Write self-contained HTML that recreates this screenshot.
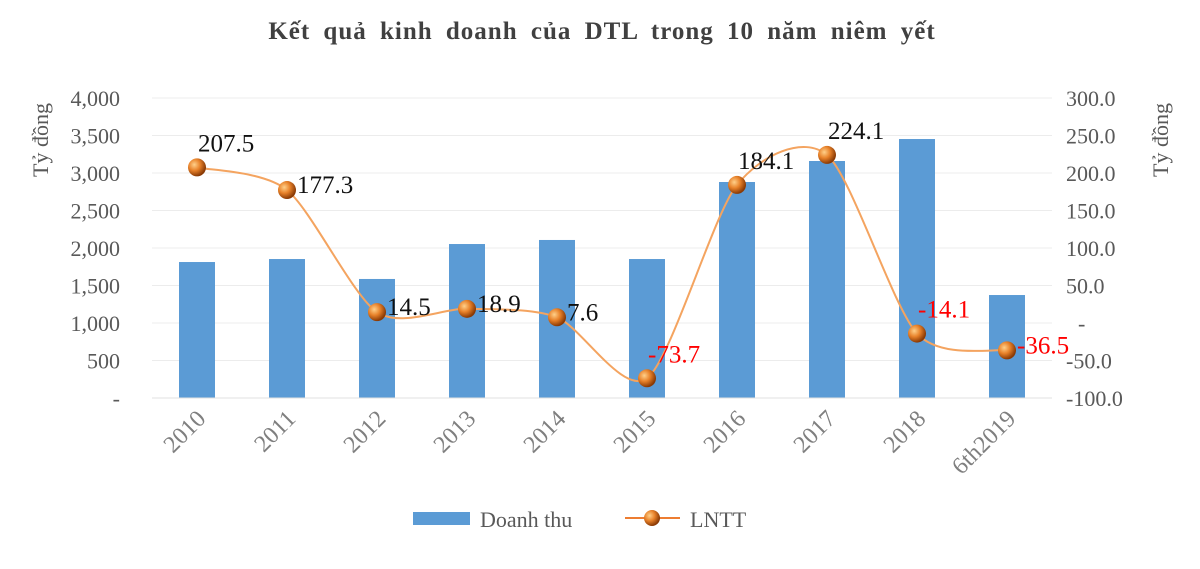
<!DOCTYPE html>
<html><head><meta charset="utf-8">
<style>
body{margin:0;background:#fff;}
svg text{font-family:"Liberation Serif",serif;}
</style></head>
<body>
<svg id="chart" width="1200" height="564" viewBox="0 0 1200 564" xmlns="http://www.w3.org/2000/svg">
<defs>
<radialGradient id="ball" cx="35%" cy="35%" r="65%">
<stop offset="0" stop-color="#ffd08a"/><stop offset="0.5" stop-color="#e8822a"/><stop offset="1" stop-color="#8a3a05"/>
</radialGradient>
</defs>
<text x="602" y="39" text-anchor="middle" font-size="25" font-weight="bold" fill="#404040" letter-spacing="1" word-spacing="6">Kết quả  kinh doanh  của DTL  trong  10 năm  niêm yết</text>
<text transform="translate(48,140) rotate(-90)" text-anchor="middle" font-size="22" fill="#595959">Tỷ đồng</text>
<text transform="translate(1168,140) rotate(-90)" text-anchor="middle" font-size="22" fill="#595959">Tỷ đồng</text>
<g id="grid"></g><g id="bars"></g><g id="line"></g><g id="axes"></g>
<g>
<rect x="413" y="512" width="57" height="13" fill="#5b9bd5"/>
<text x="480" y="527" font-size="22" fill="#595959">Doanh thu</text>
<line x1="625" y1="518" x2="680" y2="518" stroke="#ed7d31" stroke-width="2"/>
<circle cx="652" cy="518" r="8" fill="url(#ball)"/>
<text x="690" y="527" font-size="22" fill="#595959">LNTT</text>
</g>
</svg>
<script>
const categories=["2010","2011","2012","2013","2014","2015","2016","2017","2018","6th2019"];
const revenue=[1813,1853,1587,2053,2107,1853,2880,3160,3453,1373];
const profit=[207.5,177.3,14.5,18.9,7.6,-73.7,184.1,224.1,-14.1,-36.5];
const profitLabels=["207.5","177.3","14.5","18.9","7.6","-73.7","184.1","224.1","-14.1","-36.5"];
const leftTicks=[0,500,1000,1500,2000,2500,3000,3500,4000];
const leftTickLabels=["-","500","1,000","1,500","2,000","2,500","3,000","3,500","4,000"];
const rightTicks=[-100,-50,0,50,100,150,200,250,300];
const rightTickLabels=["-100.0","-50.0","-","50.0","100.0","150.0","200.0","250.0","300.0"];
const labelPlacement=["above","right","right","right","right","above","above","above","above","right"];

const NS="http://www.w3.org/2000/svg";
const X0=152,X1=1052,Y0=398,Y1=98;
const band=(X1-X0)/categories.length;
const xc=i=>X0+band*(i+0.5);
const yL=v=>Y0-(v/4000)*(Y0-Y1);
const yR=v=>Y0-((v+100)/400)*(Y0-Y1);
function mk(tag,attrs,parent){const e=document.createElementNS(NS,tag);for(const k in attrs)e.setAttribute(k,attrs[k]);document.getElementById(parent).appendChild(e);return e;}

leftTicks.forEach((t,i)=>{
  if(t>0){const g=mk("line",{x1:X0,x2:X1,y1:yL(t),y2:yL(t),stroke:"#ececec","stroke-width":1},"grid");
  
  }
  const tx=mk("text",{x:120,y:yL(t)+8,"text-anchor":"end","font-size":22,fill:"#595959"},"axes");
  tx.textContent=leftTickLabels[i];
  
  
});
rightTicks.forEach((t,i)=>{
  const tx=mk("text",{x:t===0?1078:1066,y:yR(t)+8,"font-size":22,fill:"#595959"},"axes");
  tx.textContent=rightTickLabels[i];
  
  
});
const base=mk("line",{x1:X0,x2:X1,y1:Y0,y2:Y0,stroke:"#e0e0e0","stroke-width":1},"axes");


categories.forEach((c,i)=>{
  const tx=mk("text",{transform:`translate(${xc(i)+10},${Y0+22}) rotate(-45)`,"text-anchor":"end","font-size":24,fill:"#7f7f7f"},"axes");
  tx.textContent=c;
  
  
});
revenue.forEach((v,i)=>{
  const r=mk("rect",{x:xc(i)-18,y:yL(v),width:36,height:Y0-yL(v),fill:"#5b9bd5"},"bars");
  
  
});
const pts=profit.map((v,i)=>[xc(i),yR(v)]);
let d=`M${pts[0][0]},${pts[0][1]}`;
for(let i=0;i<pts.length-1;i++){
  const p0=pts[Math.max(0,i-1)],p1=pts[i],p2=pts[i+1],p3=pts[Math.min(pts.length-1,i+2)];
  const t=0.4/3;
  d+=` C${p1[0]+(p2[0]-p0[0])*t},${p1[1]+(p2[1]-p0[1])*t} ${p2[0]-(p3[0]-p1[0])*t},${p2[1]-(p3[1]-p1[1])*t} ${p2[0]},${p2[1]}`;
}
const path=mk("path",{d:d,fill:"none",stroke:"#f4a460","stroke-width":2},"line");


pts.forEach((p,i)=>{
  const c=mk("circle",{cx:p[0],cy:p[1],r:9,fill:"url(#ball)"},"line");
  
  
  const above=labelPlacement[i]==="above";
  const tx=mk("text",{x:p[0]+(above?1:10),y:above?p[1]-16:p[1]+3,"font-size":25,fill:profit[i]<0?"#ff0000":"#111"},"line");
  tx.textContent=profitLabels[i];
  
  
});
</script>
</body></html>
